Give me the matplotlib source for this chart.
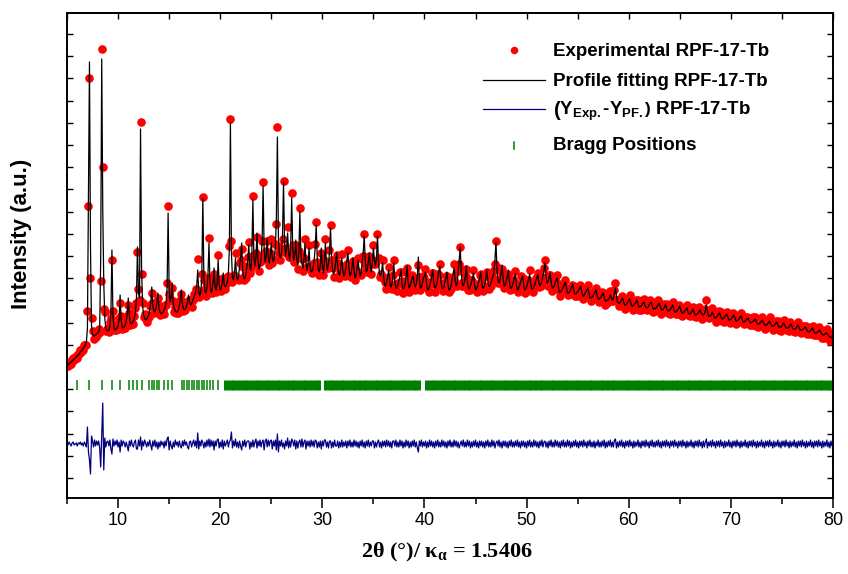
import numpy as np
import matplotlib
matplotlib.use("Agg")
import matplotlib.pyplot as plt
from matplotlib.ticker import MultipleLocator

plt.rcParams["font.family"] = ["Liberation Sans", "DejaVu Sans"]
plt.rcParams["mathtext.fontset"] = "custom"
plt.rcParams["mathtext.rm"] = "Liberation Sans:bold"
plt.rcParams["mathtext.bf"] = "Liberation Sans:bold"
plt.rcParams["mathtext.it"] = "Liberation Serif:bold"

# ---- data (intensity in arbitrary units) ----
# scan 5-80 deg 2theta, 0.1 deg step
two_theta = np.round(np.linspace(5.0, 80.0, 751), 2)

# profile fitting curve, one row per degree (x.0 ... x.9)
i_fit = [
    132, 133, 134, 135, 136, 137, 138, 139, 140, 141,   # 5
    142, 143, 144, 146, 147, 148, 150, 151, 153, 156,   # 6
    170, 300, 436, 250, 172, 164, 162, 162, 163, 164,   # 7
    165, 166, 170, 240, 439, 290, 215, 180, 170, 167,   # 8
    167, 168, 172, 185, 248, 182, 170, 168, 169, 170,   # 9
    172, 178, 203, 178, 171, 170, 171, 173, 177, 184,   # 10
    200, 182, 175, 174, 175, 177, 180, 186, 200, 251,   # 11
    205, 200, 369, 230, 192, 183, 180, 178, 179, 181,   # 12
    183, 188, 195, 211, 192, 187, 186, 189, 195, 205,   # 13
    190, 186, 184, 185, 186, 188, 190, 195, 210, 285,   # 14
    210, 196, 200, 215, 195, 189, 187, 186, 186, 188,   # 15
    192, 200, 208, 194, 189, 188, 189, 192, 196, 203,   # 16
    196, 193, 194, 197, 200, 203, 206, 212, 228, 206,   # 17
    202, 206, 220, 300, 222, 207, 205, 210, 222, 255,   # 18
    215, 206, 207, 215, 230, 212, 208, 215, 238, 214,   # 19
    208, 210, 215, 225, 213, 211, 213, 216, 225, 250,   # 20
    375, 245, 220, 218, 225, 240, 222, 218, 222, 232,   # 21
    240, 255, 228, 220, 219, 223, 230, 238, 253, 230,   # 22
    228, 245, 298, 240, 232, 240, 265, 238, 229, 232,   # 23
    240, 255, 312, 250, 236, 242, 260, 240, 235, 242,   # 24
    255, 240, 236, 240, 250, 280, 361, 260, 242, 240,   # 25
    245, 262, 316, 255, 242, 248, 265, 245, 238, 250,   # 26
    300, 250, 238, 242, 258, 238, 233, 245, 286, 245,   # 27
    234, 230, 238, 255, 235, 228, 233, 250, 232, 226,   # 28
    227, 230, 238, 250, 273, 240, 228, 226, 232, 250,   # 29
    232, 225, 234, 255, 236, 228, 234, 245, 270, 242,   # 30
    228, 224, 228, 236, 245, 232, 224, 223, 230, 240,   # 31
    228, 222, 224, 230, 238, 245, 230, 222, 224, 230,   # 32
    240, 228, 220, 222, 230, 238, 228, 222, 225, 235,   # 33
    245, 262, 238, 226, 228, 236, 245, 232, 226, 235,   # 34
    250, 238, 232, 240, 262, 236, 224, 222, 226, 235,   # 35
    222, 213, 212, 216, 222, 228, 216, 211, 213, 220,   # 36
    235, 216, 210, 210, 213, 218, 222, 228, 214, 209,   # 37
    210, 214, 222, 232, 216, 210, 212, 216, 220, 222,   # 38
    214, 211, 214, 222, 241, 218, 210, 211, 215, 220,   # 39
    222, 226, 214, 208, 209, 212, 216, 222, 228, 216,   # 40
    210, 211, 214, 220, 226, 232, 218, 210, 209, 211,   # 41
    216, 220, 226, 214, 208, 209, 212, 218, 224, 230,   # 42
    218, 212, 215, 225, 238, 251, 226, 214, 212, 215,   # 43
    222, 232, 216, 210, 209, 212, 216, 220, 225, 214,   # 44
    208, 209, 212, 216, 220, 226, 216, 210, 210, 213,   # 45
    219, 228, 218, 212, 212, 215, 218, 221, 225, 238,   # 46
    256, 228, 217, 215, 218, 225, 233, 220, 212, 213,   # 47
    216, 221, 228, 218, 210, 210, 212, 216, 220, 224,   # 48
    214, 208, 209, 212, 216, 219, 222, 214, 208, 209,   # 49
    211, 215, 219, 224, 214, 209, 209, 211, 213, 217,   # 50
    220, 223, 215, 212, 214, 217, 222, 228, 235, 222,   # 51
    215, 216, 220, 225, 216, 210, 210, 212, 215, 218,   # 52
    220, 212, 206, 206, 207, 209, 211, 214, 216, 210,   # 53
    205, 205, 206, 208, 211, 214, 209, 204, 204, 205,   # 54
    206, 208, 210, 212, 206, 202, 202, 204, 206, 208,   # 55
    210, 205, 200, 200, 201, 202, 204, 206, 208, 203,   # 56
    199, 199, 200, 201, 203, 205, 201, 197, 197, 198,   # 57
    198, 200, 203, 200, 198, 200, 204, 210, 202, 196,   # 58
    195, 195, 196, 198, 200, 196, 193, 193, 194, 196,   # 59
    198, 199, 195, 192, 192, 193, 194, 196, 198, 194,   # 60
    191, 191, 192, 193, 195, 196, 192, 190, 190, 191,   # 61
    193, 195, 196, 192, 189, 189, 190, 190, 192, 194,   # 62
    195, 191, 188, 188, 189, 191, 194, 190, 187, 187,   # 63
    188, 189, 191, 193, 189, 186, 186, 187, 188, 190,   # 64
    192, 188, 185, 185, 186, 187, 189, 190, 186, 184,   # 65
    184, 185, 187, 189, 186, 183, 183, 184, 185, 187,   # 66
    188, 185, 183, 183, 184, 187, 193, 187, 182, 182,   # 67
    182, 184, 186, 183, 180, 180, 181, 182, 184, 185,   # 68
    182, 179, 179, 180, 181, 183, 184, 181, 178, 178,   # 69
    179, 180, 182, 183, 180, 177, 177, 178, 179, 181,   # 70
    182, 179, 176, 176, 177, 178, 179, 180, 177, 175,   # 71
    175, 176, 177, 178, 179, 176, 174, 174, 174, 176,   # 72
    177, 178, 175, 173, 173, 173, 174, 176, 177, 174,   # 73
    172, 172, 172, 173, 175, 176, 173, 171, 171, 171,   # 74
    172, 174, 175, 172, 170, 170, 170, 171, 173, 174,   # 75
    171, 169, 169, 169, 170, 172, 173, 170, 168, 168,   # 76
    168, 169, 170, 171, 169, 167, 166, 166, 167, 169,   # 77
    170, 167, 165, 165, 165, 166, 167, 168, 166, 164,   # 78
    163, 163, 164, 165, 165, 163, 162, 161, 161, 160,   # 79
    160,                                                # 80
]

# Y_exp - Y_PF on the same grid
i_diff = [
    1, -1, 2, 0, -2, 1, 2, -1, 0, 1,          # 5
    -2, 1, 0, 2, -1, 1, -2, 2, 0, -3,         # 6
    17, -8, -16, -30, 8, 3, -3, 4, -2, 3,     # 7
    -1, 3, -4, -23, 10, 41, -26, 6, -3, 2,    # 8
    3, -2, 4, -5, -10, 5, -2, 3, -1, 4,       # 9
    -3, 2, -8, 4, -2, 3, 1, -3, 2, -2,        # 10
    -7, 3, -2, 4, -1, -3, 2, 4, -5, -5,       # 11
    4, -2, 7, -6, 3, -2, 4, 1, -3, 2,         # 12
    -2, 4, -1, -6, 3, -2, 4, -3, 2, -5,       # 13
    2, -3, 3, -1, 2, -4, 3, -2, 5, 7,         # 14
    -6, 3, -2, -5, 2, -3, 4, -1, 2, -3,       # 15
    3, -2, -4, 3, -2, 4, -1, 2, -3, -5,       # 16
    2, 3, -3, 1, 4, -2, 3, -4, 11, -5,        # 17
    3, -2, 4, 1, -4, 2, -3, 4, -2, 5,         # 18
    -3, 4, -2, 3, -6, 3, -2, 4, 5, -4,        # 19
    2, -3, 4, -5, 3, -2, 1, 4, -3, 2,         # 20
    4, 12, -4, 3, -2, 5, -3, 2, -4, 3,        # 21
    -2, -6, 3, -2, 4, -3, 2, 3, 3, -5,        # 22
    2, -3, 4, -3, 2, 5, -4, 3, -2, 4,         # 23
    -3, 2, 4, -6, 3, 5, -3, 4, -2, 3,         # 24
    4, -5, 3, -2, 4, -6, 10, -8, 3, -2,       # 25
    4, -3, 1, -5, 3, -2, 6, -4, 3, -3,        # 26
    5, 3, -2, 4, -5, 3, -4, 2, 4, -3,         # 27
    5, -3, 2, 4, -5, 3, -2, 3, -3, 4,         # 28
    -2, 3, -3, 4, 3, -4, 2, -3, 3, -5,        # 29
    3, -2, 4, 4, -3, 2, -4, 3, 3, -4,         # 30
    2, -3, 4, -2, -2, 3, -4, 2, -3, 4,        # 31
    -3, 2, -2, 3, -4, 3, -2, 4, -3, 2,        # 32
    -3, 4, -2, 3, -3, 2, -4, 3, -2, 4,        # 33
    -3, 2, -4, 3, -2, 4, -3, 2, -2, 3,        # 34
    3, -4, 2, -3, 2, 4, -3, 2, -4, 3,         # 35
    -2, 3, -3, 4, -2, 3, -3, 2, -4, 3,        # 36
    3, -2, 4, -3, 2, -3, 4, -2, 3, -4,        # 37
    2, -3, 4, -2, 3, -4, 2, -3, 3, -2,        # 38
    4, -3, 2, -4, -8, 3, -2, 4, -3, 2,        # 39
    -2, 3, -4, 2, -3, 4, -2, 3, -3, 2,        # 40
    -4, 3, -2, 4, -3, 2, -3, 4, -2, 3,        # 41
    -3, 2, -4, 3, -2, 4, -3, 2, -3, 4,        # 42
    -2, 3, -3, 2, -4, 0, 3, -2, 4, -3,        # 43
    2, -3, 4, -2, 3, -4, 2, -3, 3, -2,        # 44
    4, -3, 2, -4, 3, -2, 3, -3, 2, -4,        # 45
    3, -2, 4, -3, 2, -3, 4, -2, 3, -4,        # 46
    1, 3, -2, 4, -3, 2, -4, 3, -2, 3,         # 47
    -3, 2, -4, 3, -2, 4, -3, 2, -3, 3,        # 48
    -2, 4, -3, 2, -4, 3, -2, 3, -3, 2,        # 49
    -4, 3, -2, 4, -3, 2, -3, 4, -2, 3,        # 50
    -3, 2, -4, 3, -2, 4, -3, 2, 3, -3,        # 51
    2, -4, 3, -2, 4, -3, 2, -3, 4, -2,        # 52
    3, -3, 2, -4, 3, -2, 4, -3, 2, -3,        # 53
    4, -2, 3, -4, 2, -3, 3, -2, 4, -3,        # 54
    2, -4, 3, -2, 3, -3, 4, -2, 2, -4,        # 55
    3, -2, 4, -3, 2, -3, 3, -4, 2, -2,        # 56
    4, -3, 2, -3, 3, -2, 4, -4, 2, -3,        # 57
    3, -2, 4, -3, 2, -3, 4, 5, -4, 2,         # 58
    -3, 3, -2, 4, -3, 2, -4, 3, -2, 3,        # 59
    -3, 4, -2, 2, -4, 3, -3, 2, -2, 4,        # 60
    -3, 2, -4, 3, -2, 3, -3, 4, -2, 2,        # 61
    -4, 3, -2, 4, -3, 2, -3, 3, -2, 4,        # 62
    -3, 2, -4, 3, -2, 3, -3, 4, -2, 2,        # 63
    -4, 3, -2, 3, -3, 4, -2, 2, -4, 3,        # 64
    -2, 3, -3, 4, -2, 2, -4, 3, -3, 2,        # 65
    -2, 4, -3, 2, -4, 3, -2, 3, -3, 4,        # 66
    -2, 2, -4, 3, -3, 2, 5, -4, 2, -2,        # 67
    3, -3, 4, -2, 2, -4, 3, -2, 3, -3,        # 68
    4, -2, 2, -4, 3, -3, 2, -2, 4, -3,        # 69
    2, -4, 3, -2, 3, -3, 4, -2, 2, -4,        # 70
    3, -3, 2, -2, 4, -3, 2, -4, 3, -2,        # 71
    3, -3, 4, -2, 2, -4, 3, -3, 2, -2,        # 72
    4, -3, 2, -4, 3, -2, 3, -3, 4, -2,        # 73
    2, -4, 3, -3, 2, -2, 4, -3, 2, -4,        # 74
    3, -2, 3, -3, 4, -2, 2, -4, 3, -3,        # 75
    2, -2, 4, -3, 2, -4, 3, -2, 3, -3,        # 76
    4, -2, 2, -4, 3, -3, 2, -2, 4, -3,        # 77
    2, -4, 3, -2, 3, -3, 4, -2, 2, -4,        # 78
    3, -3, 2, -2, 4, -3, 2, -4, 3, -2,        # 79
    2,                                        # 80
]

bragg_sparse = [5.95, 7.16, 8.40, 9.38, 10.2, 11.1, 11.5, 11.9, 12.3, 13.0,
                13.3, 13.5, 13.8, 14.05, 14.5, 14.9, 15.25, 16.24, 16.5, 16.73,
                16.96, 17.22, 17.48, 17.72, 17.94, 18.2, 18.46, 18.75, 19.02,
                19.34, 19.83]
bragg_dense = [
    20.5, 20.78, 21.05, 21.3, 21.58, 21.85, 22.1, 22.38, 22.65, 22.92,
    23.2, 23.46, 23.74, 24.0, 24.28, 24.55, 24.82, 25.1, 25.36, 25.63,
    25.9, 26.18, 26.45, 26.72, 27.0, 27.26, 27.53, 27.8, 28.08, 28.35,
    28.62, 28.9, 29.16, 29.43, 29.7, 30.25, 30.52, 30.8, 31.06, 31.33,
    31.6, 31.88, 32.15, 32.42, 32.7, 32.96, 33.23, 33.5, 33.78, 34.05,
    34.32, 34.6, 34.86, 35.13, 35.4, 35.68, 35.95, 36.22, 36.5, 36.76,
    37.03, 37.3, 37.58, 37.85, 38.12, 38.4, 38.66, 38.93, 39.2, 39.48,
    40.15, 40.42, 40.7, 40.96, 41.23, 41.5, 41.78, 42.05, 42.32, 42.6,
    42.86, 43.13, 43.4, 43.68, 43.95, 44.22, 44.5, 44.76, 45.03, 45.3,
    45.58, 45.85, 46.12, 46.4, 46.66, 46.93, 47.2, 47.48, 47.75, 48.02,
    48.3, 48.56, 48.83, 49.1, 49.38, 49.65, 49.92, 50.2, 50.46, 50.73,
    51.0, 51.28, 51.55, 51.82, 52.1, 52.36, 52.63, 52.9, 53.18, 53.45,
    53.72, 54.0, 54.26, 54.53, 54.8, 55.08, 55.35, 55.62, 55.9, 56.16,
    56.43, 56.7, 56.98, 57.25, 57.52, 57.8, 58.06, 58.33, 58.6, 58.88,
    59.15, 59.42, 59.7, 59.96, 60.23, 60.5, 60.78, 61.05, 61.32, 61.6,
    61.86, 62.13, 62.4, 62.68, 62.95, 63.22, 63.5, 63.76, 64.03, 64.3,
    64.58, 64.85, 65.12, 65.4, 65.66, 65.93, 66.2, 66.48, 66.75, 67.02,
    67.3, 67.56, 67.83, 68.1, 68.38, 68.65, 68.92, 69.2, 69.46, 69.73,
    70.0, 70.28, 70.55, 70.82, 71.1, 71.36, 71.63, 71.9, 72.18, 72.45,
    72.72, 73.0, 73.26, 73.53, 73.8, 74.08, 74.35, 74.62, 74.9, 75.16,
    75.43, 75.7, 75.98, 76.25, 76.52, 76.8, 77.06, 77.33, 77.6, 77.88,
    78.15, 78.42, 78.7, 78.96, 79.23, 79.5, 79.78,
]

diff_offset = 54          # baseline of the difference curve
bragg_lo, bragg_hi = 108, 118

fit = np.array(i_fit, dtype=float)
diff = np.array(i_diff, dtype=float)
assert len(fit) == len(two_theta) == len(diff)
exp = fit + diff          # Y_exp = Y_PF + (Y_exp - Y_PF)

fig = plt.figure(figsize=(8.48, 5.74), dpi=100)
ax = fig.add_axes([67 / 848, 76 / 574, 766 / 848, 485 / 574])

ax.plot(two_theta, exp, "o", color="red", ms=6.2, mec="none", zorder=2)
ax.plot(two_theta, fit, "-", color="black", lw=0.9, zorder=3)
ax.plot(two_theta, diff + diff_offset, "-", color="#000080", lw=0.9, zorder=3)
ax.vlines(bragg_sparse, bragg_lo, bragg_hi, color="#008000", lw=1.1)
ax.vlines(bragg_dense, bragg_lo, bragg_hi, color="#008000", lw=2.2)

ax.set_xlim(5, 80)
ax.set_ylim(0, 485)
ax.xaxis.set_major_locator(MultipleLocator(10))
ax.xaxis.set_minor_locator(MultipleLocator(5))
ax.tick_params(axis="x", which="major", direction="out", length=7, width=1.1,
               labelsize=13, pad=3)
ax.tick_params(axis="x", which="minor", direction="out", length=4, width=1.1)
ax.set_yticks(np.arange(20, 480, 22.2))
ax.tick_params(axis="y", which="both", direction="in", length=4, width=1.0,
               left=True, right=True, labelleft=False)
top = ax.secondary_xaxis("top")
top.xaxis.set_major_locator(MultipleLocator(5))
top.tick_params(direction="in", length=4, width=1.0, labeltop=False)
for s in list(ax.spines.values()) + list(top.spines.values()):
    s.set_linewidth(1.4)

fig.text(22 / 848, 1 - 234 / 574, "Intensity (a.u.)", rotation=90,
         ha="center", va="center", fontsize=16, fontweight="bold")
fig.text(447 / 848, 1 - 552 / 574, r"2θ (°)/ κ$_{\mathit{α}}$ = 1.5406",
         ha="center", va="center", fontsize=16, fontweight="bold",
         family="Liberation Serif")

# legend drawn in axes fraction
def axf(px, py):
    return (px - 67) / 766, (498 - py) / 485

lx0, _ = axf(483, 0)
lx1, _ = axf(545, 0)
tx, _ = axf(553, 0)
mx, my = axf(514, 50)
ax.plot([mx], [my], "o", color="red", ms=5.4, mec="none", transform=ax.transAxes,
        clip_on=False)
_, y2 = axf(0, 80)
ax.plot([lx0, lx1], [y2, y2], color="black", lw=0.9, transform=ax.transAxes)
_, y3 = axf(0, 109)
ax.plot([lx0, lx1], [y3, y3], color="#000080", lw=0.9, transform=ax.transAxes)
_, y4a = axf(0, 142)
_, y4b = axf(0, 149)
ax.plot([mx, mx], [y4a, y4b], color="#008000", lw=1.1, transform=ax.transAxes)

labels = ["Experimental RPF-17-Tb", "Profile fitting RPF-17-Tb",
          r"$\left(\mathrm{Y}_{\mathrm{Exp.}}\right.$-$\left.\mathrm{Y}_{\mathrm{PF.}}\right)$ RPF-17-Tb",
          "Bragg Positions"]
for lab, py in zip(labels, [52, 81, 111, 145]):
    _, ty = axf(0, py)
    ax.text(tx, ty, lab, transform=ax.transAxes, ha="left", va="center",
            fontsize=13.5, fontweight="bold")

fig.savefig("out.png", dpi=100)
